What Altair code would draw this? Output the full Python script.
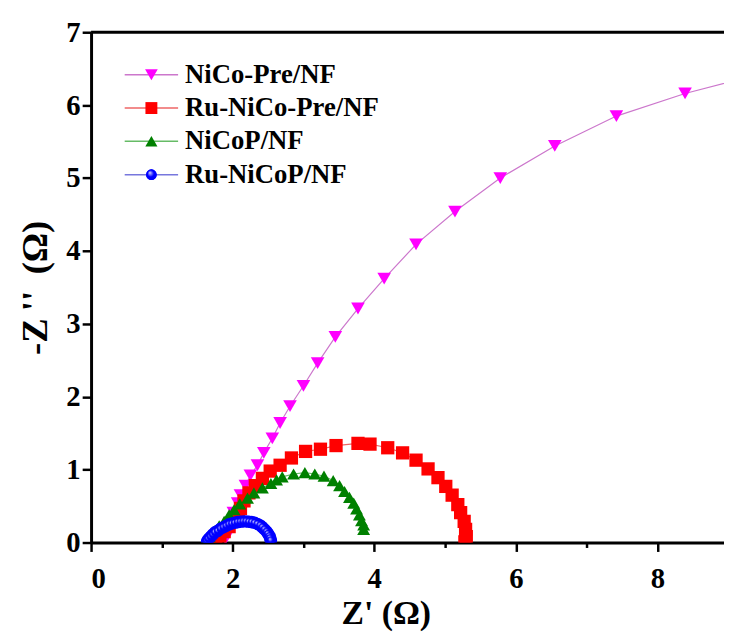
import altair as alt
import pandas as pd

legend_labels = ["\u00a0NiCo-Pre/NF", "Ru-NiCo-Pre/NF", "NiCoP/NF", "Ru-NiCoP/NF"]

nico_pre_x = [1.90, 1.93, 1.97, 2.01, 2.07, 2.11, 2.18, 2.25, 2.35, 2.44, 2.56, 2.67, 2.81,
              3.00, 3.20, 3.45, 3.77, 4.14, 4.59, 5.14, 5.78, 6.55, 7.42, 8.39, 9.35]
nico_pre_y = [0.05, 0.15, 0.27, 0.41, 0.54, 0.65, 0.78, 0.92, 1.06, 1.23, 1.43, 1.64, 1.87,
              2.15, 2.46, 2.82, 3.21, 3.62, 4.09, 4.54, 5.00, 5.44, 5.85, 6.16, 6.40]

ru_nico_pre_x = [1.76, 1.82, 1.88, 1.95, 2.02, 2.08, 2.11, 2.16, 2.23, 2.32, 2.42, 2.53, 2.67,
                 2.83, 3.03, 3.24, 3.46, 3.77, 3.94, 4.19, 4.40, 4.59, 4.76, 4.90, 5.01, 5.10,
                 5.18, 5.22, 5.27, 5.29, 5.30, 5.28]
ru_nico_pre_y = [0.02, 0.08, 0.15, 0.22, 0.30, 0.38, 0.47, 0.57, 0.68, 0.78, 0.88, 0.98, 1.06,
                 1.16, 1.25, 1.28, 1.33, 1.36, 1.35, 1.30, 1.23, 1.13, 1.01, 0.89, 0.77, 0.65,
                 0.52, 0.41, 0.29, 0.18, 0.08, 0.01]

nicop_x = [1.63, 1.67, 1.74, 1.81, 1.88, 1.95, 2.02, 2.10, 2.21, 2.30, 2.42, 2.54, 2.62, 2.70,
           2.86, 3.02, 3.16, 3.29, 3.42, 3.51, 3.58, 3.65, 3.71, 3.75, 3.79, 3.82, 3.85, 3.85]
nicop_y = [0.02, 0.08, 0.16, 0.23, 0.29, 0.38, 0.45, 0.53, 0.61, 0.68, 0.75, 0.81, 0.86, 0.90,
           0.94, 0.96, 0.94, 0.91, 0.85, 0.78, 0.70, 0.62, 0.54, 0.46, 0.38, 0.30, 0.24, 0.18]

ru_nicop_x = [1.64, 1.66, 1.69, 1.72, 1.75, 1.79, 1.83, 1.87, 1.91, 1.95, 1.99, 2.03, 2.07, 2.11,
              2.15, 2.19, 2.23, 2.27, 2.31, 2.35, 2.39, 2.42, 2.45, 2.48, 2.50, 2.52, 2.53, 2.54]
ru_nicop_y = [0.02, 0.05, 0.08, 0.11, 0.14, 0.16, 0.19, 0.21, 0.23, 0.25, 0.26, 0.27, 0.28, 0.285,
              0.29, 0.29, 0.285, 0.28, 0.27, 0.255, 0.235, 0.21, 0.18, 0.15, 0.12, 0.09, 0.06, 0.03]

x_ticks = [0, 1, 2, 3, 4, 5, 6, 7, 8]
y_ticks = [0, 0.5, 1, 1.5, 2, 2.5, 3, 3.5, 4, 4.5, 5, 5.5, 6, 6.5, 7]

marker_colors = ["#ff00ff", "#ff0000", "#008000", "#0000ff"]
line_colors = ["#cc77cc", "#ee6666", "#66bb66", "#7777dd"]
shapes = ["triangle-down", "square", "triangle-up", "circle"]
sizes = [190, 160, 130, 60]
legend_sizes = [165, 145, 150, 115]

rows = []
for lab, xs, ys in zip(legend_labels,
                       [nico_pre_x, ru_nico_pre_x, nicop_x, ru_nicop_x],
                       [nico_pre_y, ru_nico_pre_y, nicop_y, ru_nicop_y]):
    for i, (a, b) in enumerate(zip(xs, ys)):
        rows.append({"series": lab, "idx": i, "zr": a, "zi": b})
df = pd.DataFrame(rows)
leg_df = pd.DataFrame({"series": legend_labels, "row": list(range(len(legend_labels))),
                       "lsize": legend_sizes})

X_MAX = 8.94
W, H = 640, 516
FONT = "Liberation Serif"

x_scale = alt.Scale(domain=[0, X_MAX], nice=False, zero=False)
y_scale = alt.Scale(domain=[0, 7], nice=False, zero=False)
stroke_scale = alt.Scale(domain=legend_labels, range=line_colors)
fill_scale = alt.Scale(domain=legend_labels, range=marker_colors)
shape_scale = alt.Scale(domain=legend_labels, range=shapes)

x_axis = alt.Axis(
    title="Z' (\u03a9)", values=x_ticks,
    labelExpr="datum.value % 2 === 0 ? format(datum.value, 'd') : ''",
    tickSize={"condition": {"test": "datum.value % 2 === 0", "value": 9}, "value": 5},
    grid=False, labelPadding=13, titleX=298, titleY=55, titleFontSize=34,
)
y_axis = alt.Axis(
    title="-Z\u2009''\u2009 (\u03a9)", values=y_ticks,
    labelExpr="datum.value % 1 === 0 ? format(datum.value, 'd') : ''",
    tickSize={"condition": {"test": "datum.value % 1 === 0", "value": 9}, "value": 5},
    grid=False, labelPadding=2, titlePadding=12, titleFontSize=37,
)

base = alt.Chart(df)

lines = base.mark_line(strokeWidth=1.2, clip=True).encode(
    x=alt.X("zr:Q", scale=x_scale, axis=x_axis),
    y=alt.Y("zi:Q", scale=y_scale, axis=y_axis),
    stroke=alt.Stroke("series:N", scale=stroke_scale, legend=None),
    detail="series:N",
    order="idx:Q",
)

points = base.mark_point(filled=True, opacity=1, strokeWidth=0, clip=True).encode(
    x=alt.X("zr:Q", scale=x_scale),
    y=alt.Y("zi:Q", scale=y_scale),
    fill=alt.Fill("series:N", scale=fill_scale, legend=None),
    shape=alt.Shape("series:N", scale=shape_scale, legend=None),
    size=alt.Size("series:N", scale=alt.Scale(domain=legend_labels, range=sizes), legend=None),
)

glow_fill = {"gradient": "radial",
             "stops": [{"offset": 0, "color": "#ddddff"}, {"offset": 0.55, "color": "#0000ff"}],
             "x1": 0.35, "y1": 0.3, "r1": 0, "x2": 0.5, "y2": 0.5, "r2": 0.55}

blue_glow = base.transform_filter(alt.datum.series == "Ru-NiCoP/NF").mark_point(
    shape="circle", size=60, opacity=1, strokeWidth=0, clip=True, fill=glow_fill,
).encode(
    x=alt.X("zr:Q", scale=x_scale),
    y=alt.Y("zi:Q", scale=y_scale),
)

top_frame = alt.Chart(pd.DataFrame({"top": [7], "x0": [0], "x1": [X_MAX]})).mark_rule(
    strokeWidth=3, color="black").encode(
    y=alt.Y("top:Q", scale=y_scale),
    x=alt.X("x0:Q", scale=x_scale),
    x2="x1:Q",
)

main = alt.layer(lines, points, blue_glow, top_frame)

# legend built from marks; rows placed by a linear row scale
leg_y = alt.Y("row:Q", scale=alt.Scale(domain=[0, 3], range=[43, 144], nice=False, zero=False),
              axis=None)
leg_base = alt.Chart(leg_df)
leg_lines = leg_base.mark_rule(strokeWidth=1.5).encode(
    x=alt.value(34), x2=alt.value(88), y=leg_y,
    stroke=alt.Stroke("series:N", scale=stroke_scale, legend=None),
)
leg_pts = leg_base.mark_point(filled=True, opacity=1, strokeWidth=0).encode(
    x=alt.value(61), y=leg_y,
    fill=alt.Fill("series:N", scale=fill_scale, legend=None),
    shape=alt.Shape("series:N", scale=shape_scale, legend=None),
    size=alt.Size("lsize:Q", scale=None, legend=None),
)
leg_glow = leg_base.transform_filter(alt.datum.series == "Ru-NiCoP/NF").mark_point(
    shape="circle", opacity=1, strokeWidth=0, fill=glow_fill,
).encode(x=alt.value(61), y=leg_y, size=alt.Size("lsize:Q", scale=None, legend=None))
leg_text = leg_base.mark_text(align="left", baseline="middle", font=FONT, fontSize=27,
                              fontWeight="bold", color="black").encode(
    x=alt.value(95), y=leg_y, text="series:N",
)
legend = alt.layer(leg_lines, leg_pts, leg_glow, leg_text)

chart = alt.layer(main, legend).resolve_scale(y="independent", size="independent").properties(
    width=W, height=H,
    autosize=alt.AutoSizeParams(type="none"),
    padding={"left": 84, "top": 21, "right": 0, "bottom": 90},
).configure_view(stroke=None).configure_axis(
    domainColor="black", domainWidth=3, tickColor="black", tickWidth=2.5,
    labelFont=FONT, labelFontWeight="bold", labelFontSize=29, labelColor="black",
    titleFont=FONT, titleFontWeight="bold", titleColor="black",
)

chart.save("out.html", embed_options={"renderer": "svg", "actions": False})
